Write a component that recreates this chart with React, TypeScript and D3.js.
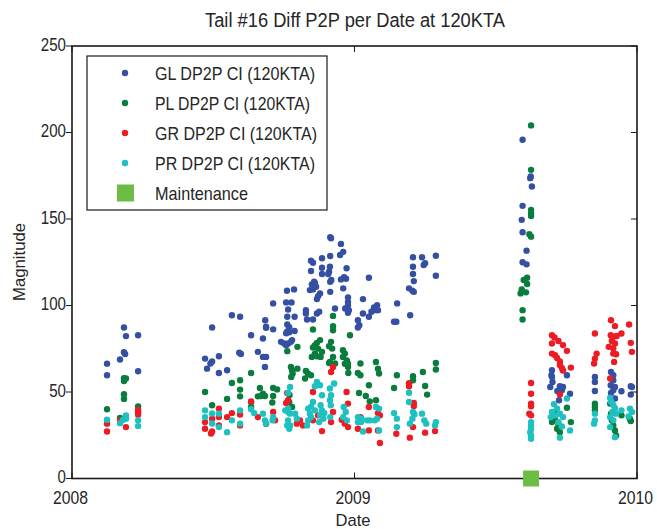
import React from "react";
import * as d3 from "d3";

const title = "Tail #16 Diff P2P per Date at 120KTA";
const xLabel = "Date";
const yLabel = "Magnitude";
const xTicks = [2008, 2009, 2010];
const yTicks = [0, 50, 100, 150, 200, 250];
const seriesNames = ["GL DP2P CI (120KTA)", "PL DP2P CI (120KTA)", "GR DP2P CI (120KTA)", "PR DP2P CI (120KTA)"];
const seriesColors = ["#3550a3", "#0a7d3e", "#ec1c24", "#1fc0c0"];
const maintenanceName = "Maintenance";
const maintenanceColor = "#6cbd45";

// [decimal year, magnitude]
const glData: [number, number][] = [
  [2008.124,66.4],[2008.124,59.7],
  [2008.184,87.3],[2008.191,82.3],[2008.184,73],[2008.188,72],[2008.170,68.8],
  [2008.234,82.8],[2008.234,62],
  [2008.471,69.3],[2008.478,63.5],[2008.496,87.3],[2008.496,67.6],[2008.490,66.5],[2008.520,70.7],[2008.520,61],[2008.549,62.6],[2008.566,94.4],[2008.595,93.5],[2008.592,72.7],[2008.598,72],[2008.634,82.8],[2008.658,73.2],
  [2008.676,80.9],[2008.687,87.7],[2008.687,87.1],[2008.684,91.5],[2008.676,70.3],[2008.687,70.3],[2008.683,64.5],
  [2008.712,101.2],[2008.712,86.2],
  [2008.758,101.8],[2008.777,101.8],[2008.761,108.5],[2008.786,109.3],[2008.765,97.7],[2008.762,93.5],[2008.788,93.5],[2008.762,89],[2008.769,87.5],[2008.762,85],[2008.758,84],[2008.769,84.5],[2008.788,85.3],[2008.740,79],[2008.751,78],[2008.758,77],[2008.765,78],[2008.775,79],[2008.779,80],
  [2008.828,97.3],[2008.828,95.4],[2008.832,91.9],[2008.853,91.9],
  [2008.846,125.9],[2008.853,124.7],[2008.846,119.9],[2008.857,113.7],[2008.849,112.2],[2008.860,113],[2008.853,109.3],[2008.842,108.9],[2008.864,110.8],
  [2008.885,127.3],[2008.885,121.8],[2008.885,118.2],[2008.878,107],[2008.871,105.4],[2008.867,103.7],[2008.875,96.4],[2008.867,95.4],
  [2008.917,138.9],[2008.914,139.5],[2008.914,128.6],[2008.913,122.4],[2008.910,119.5],[2008.907,118.2],[2008.918,114.7],[2008.914,113.7],[2008.914,107.9],[2008.931,98.3],
  [2008.952,135.6],[2008.960,131],[2008.949,129.2],[2008.972,121.5],[2008.963,116.3],[2008.952,115.1],[2008.970,115.5],[2008.960,109.9],[2008.977,104.7],[2008.977,102.1],[2008.977,100.2],[2008.967,98.3],[2008.980,97.3],[2008.977,95.8],
  [2009.012,91.5],[2009.017,88.6],[2009.012,87.3],
  [2009.030,103.7],[2009.030,95.4],
  [2009.051,116],[2009.051,93.5],[2009.060,96.4],
  [2009.076,97.3],[2009.069,98.9],[2009.080,100.2],[2009.083,97.3],
  [2009.140,90.6],[2009.148,90.6],[2009.151,101.2],
  [2009.193,109.9],[2009.205,108.5],[2009.210,107.9],[2009.207,127.9],[2009.207,122.4],[2009.207,118.2],[2009.210,114.1],[2009.197,94.4],
  [2009.239,127.9],[2009.250,124.4],[2009.245,123.4],
  [2009.288,128.8],[2009.288,117.2],
  [2009.595,195.8],[2009.624,174.6],[2009.622,173.6],[2009.628,168.8],[2009.595,157.6],[2009.592,149.5],[2009.595,142.3],[2009.609,131.7],[2009.595,125],[2009.609,123.8],
  [2009.699,62.6],[2009.697,59.7],[2009.701,55.8],[2009.699,58.7],[2009.693,52.9],[2009.727,53.3],[2009.738,52.9],[2009.718,50.6],[2009.734,51],[2009.752,59.7],[2009.763,49],[2009.724,45.2],
  [2009.851,58.7],[2009.851,55.8],[2009.851,50.6],
  [2009.908,61.6],[2009.916,56.8],[2009.907,53.9],[2009.922,52.9],[2009.916,51],[2009.908,49.4],[2009.945,50.4],[2009.922,46.2],[2009.916,59.7],
  [2009.978,53.3],[2009.982,52.9],[2009.978,48.5],
];

const plData: [number, number][] = [
  [2008.124,40],
  [2008.191,57.8],[2008.184,58],[2008.184,56.4],[2008.184,48.7],[2008.184,46],[2008.170,35],
  [2008.234,41.7],
  [2008.471,50],[2008.496,42.3],[2008.549,46],[2008.566,55.2],[2008.595,56.8],[2008.595,51.4],[2008.595,47.5],[2008.634,61],[2008.658,47.5],
  [2008.634,44.2],[2008.634,41.3],
  [2008.665,52.3],[2008.676,49],[2008.683,47.7],[2008.712,52.3],[2008.726,51.5],[2008.669,47.7],[2008.712,47.7],[2008.709,43.9],
  [2008.762,73.6],[2008.775,64.5],[2008.779,62.6],[2008.781,60.7],[2008.776,58.7],[2008.770,48.3],[2008.769,44.2],[2008.779,41.3],
  [2008.798,76.1],[2008.798,63.5],
  [2008.828,62.2],[2008.835,60.7],[2008.846,59.7],[2008.825,57.8],
  [2008.853,86.1],[2008.878,80],[2008.867,78.4],[2008.860,77.1],[2008.853,75.7],[2008.871,75.1],[2008.885,73.2],[2008.860,72.2],[2008.867,70.7],[2008.849,70.3],[2008.880,70.3],
  [2008.924,94],[2008.924,88],[2008.924,85.7],[2008.917,79],[2008.910,76.5],[2008.921,75.1],[2008.924,70.3],[2008.913,67.4],[2008.931,66.5],[2008.910,66.8],
  [2008.984,82.8],[2008.959,74.2],[2008.966,72.2],[2008.959,70.3],[2008.973,68.3],[2008.977,66.3],[2008.966,66.3],[2008.977,64.5],[2008.978,61],
  [2009.012,61],[2009.021,59.7],[2009.021,66.5],[2009.016,49.4],[2009.040,47.7],[2009.054,44.6],
  [2009.076,67.4],[2009.083,63.5],[2009.087,60.7],[2009.076,45.2],
  [2009.051,53.9],
  [2009.140,52.3],[2009.150,59.7],
  [2009.207,59.1],[2009.207,56.8],[2009.193,54.9],
  [2009.242,61.6],[2009.250,53.5],[2009.257,48.5],
  [2009.288,66.8],[2009.288,63],
  [2009.625,204.1],[2009.625,178.4],[2009.625,155.3],[2009.625,153.4],[2009.625,151.8],[2009.619,141.2],[2009.625,139.8],
  [2009.611,116],[2009.599,114.7],[2009.611,112.4],[2009.592,109.3],[2009.588,107],[2009.607,107.6],[2009.595,97.3],[2009.595,91.9],
  [2009.699,32.6],[2009.717,28.8],[2009.727,26.8],[2009.752,40.9],[2009.766,32.6],[2009.717,37.5],[2009.710,34],[2009.722,31],
  [2009.851,43.3],[2009.851,41.3],[2009.851,39.4],
  [2009.905,43.3],[2009.908,37.5],[2009.911,33.6],[2009.916,30.7],[2009.922,27.8],[2009.926,24.9],
  [2009.945,36.5],[2009.975,34.6],[2009.978,33.2],
];

const grData: [number, number][] = [
  [2008.124,31.7],[2008.124,27.2],
  [2008.170,33.6],[2008.191,29.7],
  [2008.234,39.8],[2008.234,38.4],[2008.234,36.9],
  [2008.471,28.8],[2008.471,32.6],[2008.496,34.6],[2008.496,27.2],[2008.492,26],[2008.520,40.4],[2008.520,35.5],[2008.520,30.7],[2008.549,35.5],[2008.566,37.8],[2008.595,37],[2008.595,30.7],[2008.634,44.6],[2008.658,35.5],
  [2008.712,38.4],[2008.719,33.6],[2008.687,31.7],
  [2008.762,49.4],[2008.765,45.2],[2008.758,43.6],
  [2008.807,33.6],[2008.796,31.7],[2008.818,30.7],
  [2008.853,50],[2008.853,33.6],[2008.871,36.5],[2008.885,27.4],
  [2008.924,64.5],[2008.917,61.6],[2008.924,38.4],[2008.917,32.6],
  [2008.955,34],[2008.966,31.7],[2008.977,29.7],[2008.972,50],[2008.977,43.3],
  [2009.012,28.8],[2009.021,35.5],
  [2009.051,41.3],[2009.051,27.8],[2009.083,37.8],[2009.090,36.5],[2009.083,27.8],[2009.090,20.5],
  [2009.148,25.9],
  [2009.196,23.6],[2009.207,29.7],[2009.193,54.9],[2009.193,53.3],[2009.210,43.6],[2009.210,41.9],
  [2009.250,26.5],[2009.285,27.4],
  [2009.625,55.2],[2009.625,49],[2009.625,43.3],[2009.625,41.7],[2009.619,37.5],[2009.625,36.5],
  [2009.727,48.5],
  [2009.699,82.8],[2009.708,81.5],[2009.722,79.5],[2009.699,78],[2009.738,77.1],[2009.752,73.8],[2009.699,72.2],[2009.710,71.3],[2009.717,69.7],[2009.727,67.6],[2009.727,65.6],[2009.734,63.9],[2009.738,62.4],[2009.766,64.1],
  [2009.851,83.8],[2009.857,72.2],[2009.851,69.3],[2009.848,66.5],
  [2009.908,91.5],[2009.922,88.1],[2009.907,82.8],[2009.916,81.9],[2009.928,82.4],[2009.911,79.5],[2009.922,78],[2009.900,76.1],[2009.916,75.1],[2009.926,71.8],[2009.916,72.2],[2009.919,67.4],[2009.905,57.8],
  [2009.945,83.8],[2009.972,89],[2009.978,78.4],[2009.982,73.2],
];

const prData: [number, number][] = [
  [2008.124,34],
  [2008.170,32],[2008.191,36.5],[2008.191,34.6],[2008.181,34],
  [2008.234,33.6],[2008.234,30.3],
  [2008.471,39.4],[2008.471,35.5],[2008.496,37.6],[2008.496,31.8],[2008.520,37.5],[2008.520,29.7],[2008.549,26.8],[2008.566,33.6],[2008.595,39.4],[2008.595,31.7],[2008.634,40],
  [2008.645,37.8],
  [2008.676,37.5],[2008.683,33.6],[2008.687,31.7],[2008.712,35.5],[2008.710,33.6],
  [2008.755,39.4],[2008.765,38.4],[2008.772,37.5],[2008.765,33.6],[2008.772,30.7],[2008.769,28.8],[2008.762,30.7],[2008.772,52.9],[2008.765,49.4],[2008.765,40.4],
  [2008.790,37.5],[2008.796,34.6],
  [2008.836,40.4],[2008.842,37.5],[2008.846,35.5],[2008.836,33.6],[2008.832,30.7],[2008.853,44.2],[2008.846,41.3],[2008.860,39.4],
  [2008.867,55.8],[2008.860,53.3],[2008.878,53.9],[2008.885,48.1],[2008.880,42.3],[2008.885,39.4],[2008.878,36.5],[2008.890,34.6],[2008.875,32.6],[2008.893,37.9],[2008.914,35.5],
  [2008.928,54.9],[2008.913,52],[2008.917,48.1],[2008.913,45.2],[2008.916,42.3],
  [2008.962,41.3],[2008.969,38.4],[2008.960,35.5],[2008.973,33.6],
  [2009.012,35.5],[2009.025,34.6],[2009.023,32.6],[2009.012,32.6],[2009.030,27.2],
  [2009.045,33.6],[2009.055,33.6],
  [2009.076,41.3],[2009.087,40.4],[2009.080,34.6],[2009.072,33.6],[2009.087,27.8],
  [2009.140,37.8],[2009.150,34.6],[2009.150,29.7],
  [2009.193,49.6],[2009.193,44.2],[2009.207,38.4],[2009.212,37.2],[2009.205,34.6],[2009.196,31.7],
  [2009.239,37.5],[2009.247,33.6],[2009.254,31.7],
  [2009.288,32.6],[2009.285,30.7],
  [2009.625,32.6],[2009.625,30.7],[2009.625,28.8],[2009.622,26.8],[2009.625,24.9],[2009.625,23],
  [2009.706,42.9],[2009.699,38.4],[2009.717,40.4],[2009.710,36.5],[2009.727,37.5],[2009.738,35.5],[2009.722,32.6],[2009.734,30.1],[2009.752,46.2],[2009.763,27.8],[2009.727,23.6],[2009.695,35.5],
  [2009.851,37.5],[2009.851,33.6],[2009.848,31.7],
  [2009.905,46.5],[2009.908,44.4],[2009.916,42.5],[2009.922,40.6],[2009.913,38.4],[2009.926,37.5],[2009.905,35.5],[2009.916,33.6],[2009.905,29.7],[2009.922,23.9],
  [2009.945,39.4],[2009.975,40.4],[2009.982,38.4],[2009.970,35.9],
];

const maintenanceData: [number, number][] = [[2009.625, 0]];

const W = 657, H = 529;
const M = { left: 72, right: 637, top: 46, bottom: 478.5 };
const FONT = "'Liberation Sans Narrow', 'Arial Narrow', 'Liberation Sans', Arial, sans-serif";
const TXT = "#262626";

export default function App() {
  const x = d3.scaleLinear().domain([2008, 2010]).range([M.left, M.right]);
  const y = d3.scaleLinear().domain([0, 250]).range([M.bottom, M.top]);
  const all = [glData, plData, grData, prData];
  const legendRows = [73, 103, 133, 163, 193];
  const legendWidths = [160, 155, 162, 160];
  const axisColor = "#1a1a1a";
  return (
    <div style={{ position: "absolute", left: 0, top: 0 }}>
      <svg width={W} height={H} style={{ display: "block", background: "#fff" }} fontFamily={FONT}>
        <rect x={0} y={0} width={W} height={H} fill="#fff" />
        <text x={355} y={27} textAnchor="middle" fontSize={20} fill={TXT} textLength={300} lengthAdjust="spacingAndGlyphs">{title}</text>
        {all.map((data, si) => (
          <g key={si} fill={seriesColors[si]}>
            {data.map((d, i) => (
              <circle key={i} cx={x(d[0])} cy={y(d[1])} r={3.2} />
            ))}
          </g>
        ))}
        <rect x={M.left} y={M.top} width={M.right - M.left} height={M.bottom - M.top} fill="none" stroke={axisColor} strokeWidth={1.6} />
        {yTicks.map((t) => (
          <g key={t}>
            <line x1={M.left - 6} x2={M.left} y1={y(t)} y2={y(t)} stroke={axisColor} strokeWidth={1} />
            <line x1={M.right - 6} x2={M.right} y1={y(t)} y2={y(t)} stroke={axisColor} strokeWidth={1} />
            <text x={M.left - 6} y={y(t) - 1.5} dy="0.35em" textAnchor="end" fontSize={18} fill={TXT}
              textLength={String(t).length * 8.4} lengthAdjust="spacingAndGlyphs">{t}</text>
          </g>
        ))}
        {xTicks.map((t) => (
          <g key={t}>
            <line x1={x(t)} x2={x(t)} y1={M.bottom} y2={M.bottom - 6} stroke={axisColor} strokeWidth={1} />
            <line x1={x(t)} x2={x(t)} y1={M.top} y2={M.top + 6} stroke={axisColor} strokeWidth={1} />
            <g transform={`translate(${x(t) - 1.5},${M.bottom + 19}) scale(0.83,1)`}>
              <text x={0} y={0} dy="0.35em" textAnchor="middle" fontSize={19} fill={TXT}>{t}</text>
            </g>
          </g>
        ))}
        {maintenanceData.map((d, i) => (
          <rect key={i} x={x(d[0]) - 8} y={y(d[1]) - 8} width={16} height={16} fill={maintenanceColor} />
        ))}
        <text x={353} y={520} dy="0.35em" textAnchor="middle" fontSize={17} fill={TXT} textLength={35} lengthAdjust="spacingAndGlyphs">{xLabel}</text>
        <text transform={`translate(19,262) rotate(-90)`} textAnchor="middle" dy="0.35em" fontSize={17} fill={TXT} textLength={78} lengthAdjust="spacingAndGlyphs">{yLabel}</text>
        <rect x={87} y={56} width={240} height={154} fill="#fff" stroke={axisColor} strokeWidth={1.2} />
        {seriesNames.map((n, i) => (
          <g key={n}>
            <circle cx={125} cy={legendRows[i]} r={3.2} fill={seriesColors[i]} />
            <text x={155} y={legendRows[i]} dy="0.35em" fontSize={19} fill={TXT} textLength={legendWidths[i]} lengthAdjust="spacingAndGlyphs">{n}</text>
          </g>
        ))}
        <rect x={117} y={legendRows[4] - 8.5} width={17} height={17} fill={maintenanceColor} />
        <text x={155} y={legendRows[4]} dy="0.35em" fontSize={19} fill={TXT} textLength={93} lengthAdjust="spacingAndGlyphs">{maintenanceName}</text>
      </svg>
    </div>
  );
}
